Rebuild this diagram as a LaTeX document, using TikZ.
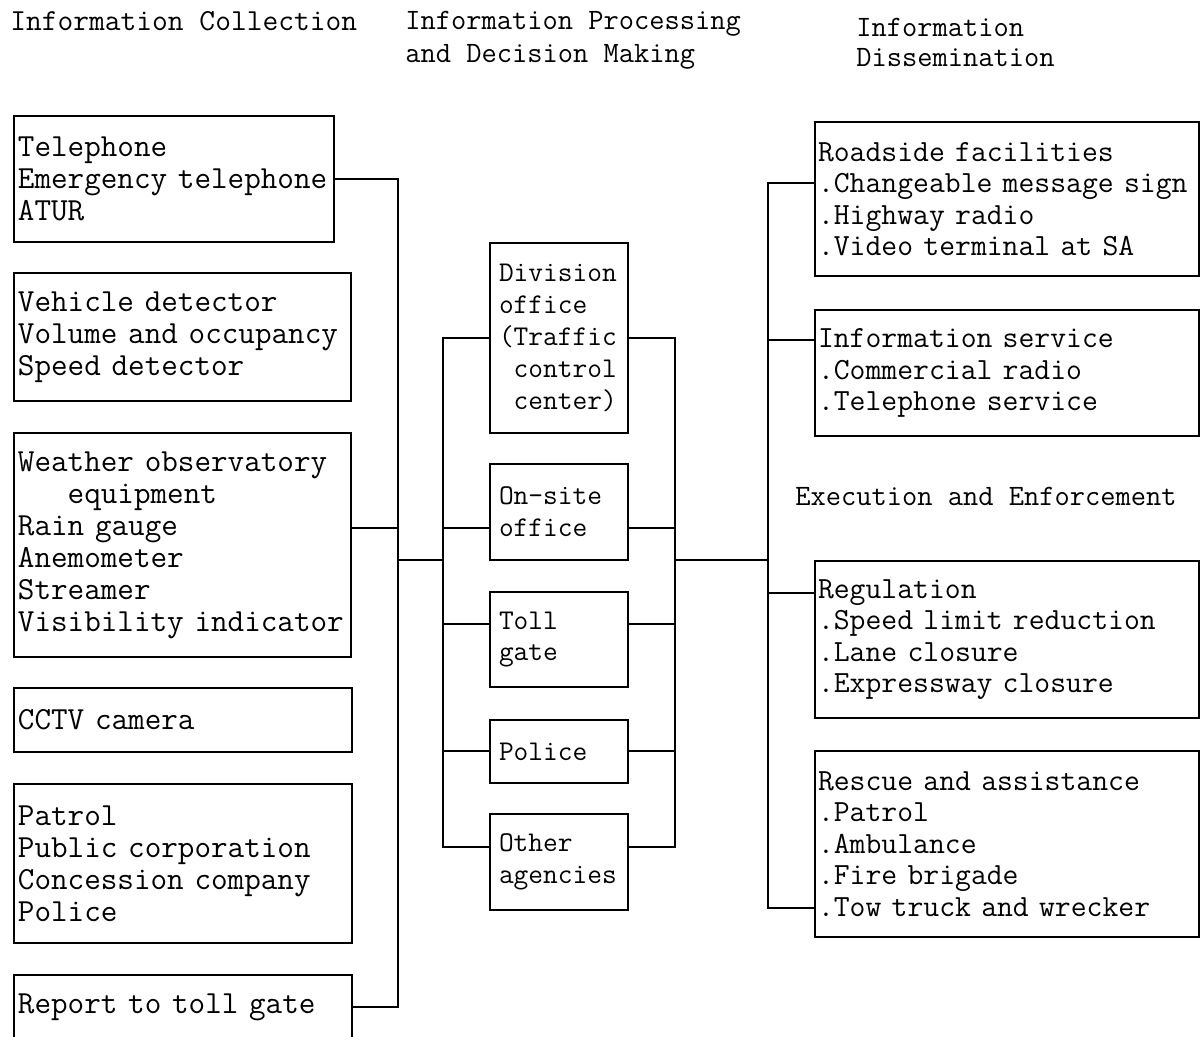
\documentclass[tikz,border=0pt]{standalone}
\usepackage{tikz}
\usetikzlibrary{positioning}

\newcommand{\ttL}{\ttfamily\fontsize{16.1}{16}\selectfont}
\newcommand{\ttM}{\ttfamily\fontsize{14.3}{15.9}\selectfont}
\newcommand{\ttR}{\ttfamily\fontsize{15.4}{15.7}\selectfont}
\newcommand{\ttH}{\ttfamily\fontsize{14.8}{15.7}\selectfont}

\tikzset{
  box/.style={draw, line width=1.1pt, align=left, inner ysep=0pt},
  lbox/.style={box, font=\ttL, inner xsep=2pt},
  mbox/.style={box, font=\ttM, inner xsep=4.5pt, text width=60pt},
  rbox/.style={box, font=\ttR, inner xsep=1.5pt, text width=189pt},
  hdr/.style={font=\ttH, anchor=base west, align=left, inner sep=0pt},
  wire/.style={line width=1pt}
}

\begin{document}
\begin{tikzpicture}[x=0.5pt,y=-0.5pt]
  \useasboundingbox (0,0) rectangle (1201,1037);

  % column headings
  \node[hdr, font=\ttfamily\fontsize{15.3}{15.7}\selectfont] (hcol) at (10,31) {Information Collection};
  \node[hdr] (hproc) at (405,63) {Information Processing\\[0.8pt]and Decision Making};
  \node[hdr] (hdis) at (856,67) {Information\\[-0.7pt]Dissemination};
  \node[hdr] (hexe) at (795,506) {Execution and Enforcement};

  % information collection
  \node[lbox, text width=156pt, minimum height=63pt] (tel) at (174,179)
    {Telephone\\Emergency telephone\\ATUR};
  \node[lbox, text width=164.5pt, minimum height=64pt] (veh) at (182.5,337)
    {Vehicle detector\\Volume and occupancy\\Speed detector};
  \node[lbox, text width=164.5pt, minimum height=112pt] (wthr) at (182.5,545)
    {Weather observatory\\\hphantom{xxx}equipment\\Rain gauge\\Anemometer\\Streamer\\Visibility indicator};
  \node[lbox, text width=165pt, minimum height=32pt] (cctv) at (183,720)
    {CCTV camera};
  \node[lbox, text width=165pt, minimum height=79.5pt] (patr) at (183,863.5)
    {Patrol\\Public corporation\\Concession company\\Police};
  \node[lbox, text width=165pt, minimum height=32pt] (rept) at (183,1007)
    {Report to toll gate};

  % processing and decision making
  \node[mbox, minimum height=95pt] (div) at (559,338)
    {Division\\office\\(Traffic\\\hphantom{(}control\\\hphantom{(}center)};
  \node[mbox, minimum height=48pt] (site) at (559,512) {On-site\\office};
  \node[mbox, minimum height=47.5pt] (toll) at (559,639.5) {Toll\\gate};
  \node[mbox, minimum height=31.5pt] (pol) at (559,751.5) {Police};
  \node[mbox, minimum height=48pt] (oth) at (559,862) {Other\\agencies};

  % dissemination, execution and enforcement
  \node[rbox, minimum height=77pt] (road) at (1007,199)
    {Roadside facilities\\.Changeable message sign\\.Highway radio\\.Video terminal at SA};
  \node[rbox, minimum height=63pt] (isrv) at (1007,373)
    {Information service\\.Commercial radio\\.Telephone service};
  \node[rbox, minimum height=78.5pt] (regu) at (1007,639.5)
    {Regulation\\.Speed limit reduction\\.Lane closure\\.Expressway closure};
  \node[rbox, minimum height=93pt] (resc) at (1007,844)
    {Rescue and assistance\\.Patrol\\.Ambulance\\.Fire brigade\\.Tow truck and wrecker};

  % junctions
  \coordinate (ljoin) at (398,560);
  \coordinate (mleft) at (443,560);
  \coordinate (mright) at (675,560);
  \coordinate (rjoin) at (768,560);

  % left bus
  \draw[wire] (tel.east) -| (ljoin) |- (rept.east);
  \draw[wire] ([yshift=8.5pt]wthr.east) -- ([yshift=8.5pt]wthr.east -| ljoin);
  \draw[wire] (ljoin) -- (mleft);

  % middle buses
  \draw[wire] (div.west) -| (mleft) |- ([yshift=7.5pt]oth.west);
  \draw[wire] (div.east) -| (mright) |- ([yshift=7.5pt]oth.east);
  \foreach \n/\s in {site/-8pt, toll/7.75pt, pol/0pt}{
    \draw[wire] ([yshift=\s]\n.west) -- ([yshift=\s]\n.west -| mleft);
    \draw[wire] ([yshift=\s]\n.east) -- ([yshift=\s]\n.east -| mright);
  }
  \draw[wire] (mright) -- (rjoin);

  % right bus
  \draw[wire] ([yshift=8pt]road.west) -| (rjoin) |- ([yshift=-32pt]resc.west);
  \draw[wire] ([yshift=16.5pt]isrv.west) -- ([yshift=16.5pt]isrv.west -| rjoin);
  \draw[wire] ([yshift=23.25pt]regu.west) -- ([yshift=23.25pt]regu.west -| rjoin);
\end{tikzpicture}
\end{document}
